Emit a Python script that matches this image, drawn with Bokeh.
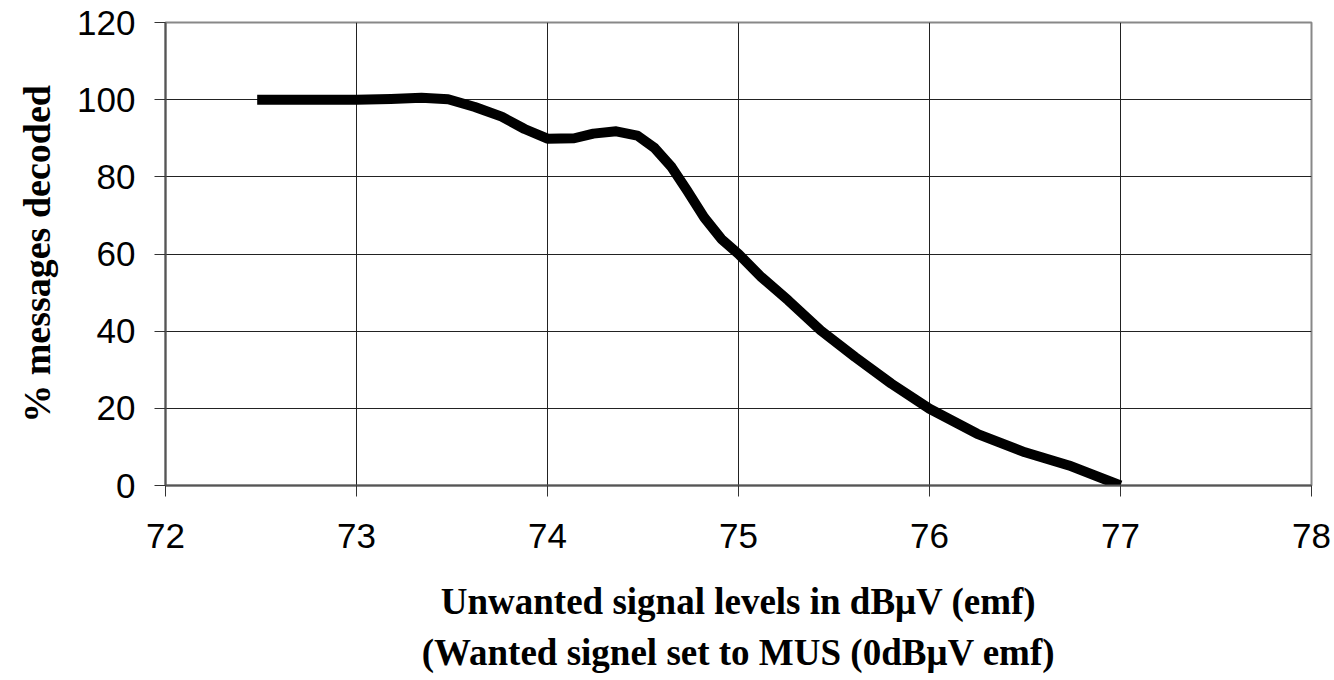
from bokeh.plotting import figure
from bokeh.models import Range1d, FixedTicker, Title
from bokeh.embed import file_html
from bokeh.resources import INLINE

# Data
signal_level = [72.48, 73.0, 73.18, 73.34, 73.48, 73.62, 73.76, 73.88, 74.0,
                74.14, 74.24, 74.36, 74.47, 74.56, 74.65, 74.73, 74.82, 74.91,
                75.0, 75.12, 75.26, 75.43, 75.61, 75.8, 76.0, 76.25, 76.5,
                76.73, 77.0]
pct_decoded = [100.0, 100.0, 100.2, 100.5, 100.1, 98.1, 95.6, 92.4, 89.9,
               90.0, 91.2, 91.8, 90.7, 87.5, 82.5, 76.5, 69.5, 63.9,
               60.0, 54.0, 48.0, 40.2, 33.3, 26.4, 19.9, 13.4, 8.6,
               5.2, 0.0]

x_ticks = [72, 73, 74, 75, 76, 77, 78]
y_ticks = [0, 20, 40, 60, 80, 100, 120]

x_title_1 = "Unwanted signal levels in dBμV (emf)"
x_title_2 = "(Wanted signel set to MUS (0dBμV emf)"
y_title = "% messages decoded"

p = figure(width=1334, height=680, output_backend="svg", toolbar_location=None,
           x_range=Range1d(72, 78), y_range=Range1d(0, 120),
           min_border_left=165, min_border_right=23, min_border_top=22,
           min_border_bottom=195)

p.line(signal_level, pct_decoded, line_color="black", line_width=10,
       line_join="round", line_cap="butt")

p.background_fill_color = "white"
p.border_fill_color = "white"
p.outline_line_color = "#888888"
p.outline_line_width = 2

for ax in (p.xaxis[0], p.yaxis[0]):
    ax.major_tick_out = 11
    ax.major_tick_in = 0
    ax.minor_tick_line_color = None
    ax.major_tick_line_color = "#333333"
    ax.major_tick_line_width = 1
    ax.axis_line_color = "#555555"
    ax.axis_line_width = 2
    ax.major_label_text_font = "Liberation Sans"
    ax.major_label_text_font_size = "35px"
    ax.major_label_text_color = "black"
    ax.axis_label_text_font = "Liberation Serif"
    ax.axis_label_text_font_style = "bold"
    ax.axis_label_text_color = "black"

p.xaxis[0].ticker = FixedTicker(ticks=x_ticks)
p.yaxis[0].ticker = FixedTicker(ticks=y_ticks)
p.xaxis[0].major_label_standoff = 27
p.yaxis[0].major_label_standoff = 19

p.xaxis[0].axis_label = x_title_1
p.xaxis[0].axis_label_text_font_size = "37px"
p.xaxis[0].axis_label_standoff = 30

p.yaxis[0].axis_label = y_title
p.yaxis[0].axis_label_text_font_size = "38px"
p.yaxis[0].axis_label_standoff = 16

p.xgrid.ticker = FixedTicker(ticks=x_ticks)
p.ygrid.ticker = FixedTicker(ticks=y_ticks)
p.xgrid.grid_line_color = "#222222"
p.ygrid.grid_line_color = "#222222"
p.xgrid.grid_line_width = 1
p.ygrid.grid_line_width = 1

t2 = Title(text=x_title_2, align="center", text_font="Liberation Serif",
           text_font_style="bold", text_font_size="37px", text_color="black",
           standoff=10)
p.add_layout(t2, "below")

open("out.html", "w").write(file_html(p, INLINE))
